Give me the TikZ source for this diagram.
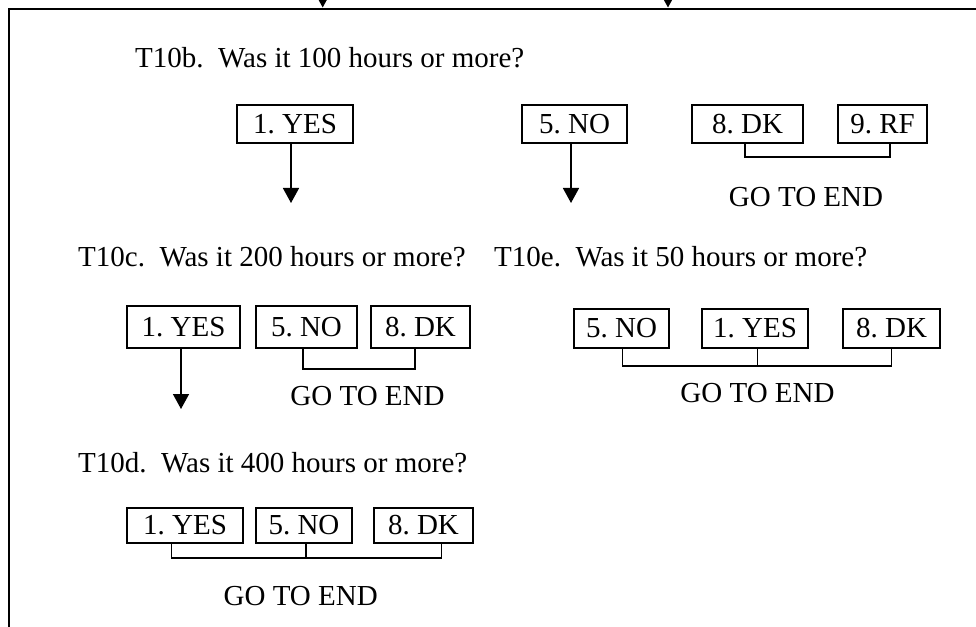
\documentclass[tikz,border=0pt]{standalone}
\usepackage{fontspec}
\setmainfont{Liberation Serif}
\usetikzlibrary{arrows.meta}
\frenchspacing
\begin{document}
\begin{tikzpicture}[x=1bp,y=-1bp,
  every node/.style={font=\fontsize{29bp}{34bp}\selectfont, inner sep=0pt},
  optbox/.style={draw, line width=1.5bp},
  conn/.style={line width=1.5bp},
  arr/.style={conn, -{Triangle[width=16bp,length=15bp]}},
  frameline/.style={line width=2.8bp}]
\useasboundingbox (0,0) rectangle (976,627);

% frame and incoming arrows
\coordinate (fbl) at (9,660);
\coordinate (fc) at (9,9);
\coordinate (ftr) at (1000,9);
\draw[frameline] (fbl) -- (fc) -- (ftr);
\coordinate (in1s) at (322.7,-40);
\coordinate (in1e) at (322.7,7.5);
\coordinate (in2s) at (668,-40);
\coordinate (in2e) at (668,7.5);
\draw[arr] (in1s) -- (in1e);
\draw[arr] (in2s) -- (in2e);

% questions
\node[anchor=base west] (q10b) at (135,68) {T10b.\ \ Was it 100 hours or more?};
\node[anchor=base west] (q10c) at (78,267) {T10c.\ \ Was it 200 hours or more?};
\node[anchor=base west] (q10e) at (494,267) {T10e.\ \ Was it 50 hours or more?};
\node[anchor=base west] (q10d) at (78,472) {T10d.\ \ Was it 400 hours or more?};

% row 1
\node[optbox, minimum width=116bp, minimum height=38bp] (yes1) at (295,124) {1. YES};
\node[optbox, minimum width=105bp, minimum height=38bp] (no1) at (574.5,124) {5. NO};
\node[optbox, minimum width=111bp, minimum height=38bp] (dk1) at (747.5,124) {8. DK};
\node[optbox, minimum width=89bp, minimum height=38bp] (rf1) at (882.5,124) {9. RF};
\coordinate (t1) at (291,203);
\coordinate (t2) at (571,203);
\draw[arr] (yes1.south -| t1) -- (t1);
\draw[arr] (no1.south -| t2) -- (t2);
\coordinate (b1l) at (745,157);
\coordinate (b1r) at (890,157);
\draw[conn] (dk1.south -| b1l) -- (b1l) -- (b1r) -- (rf1.south -| b1r);
\node[anchor=base] (g1) at (806,207) {GO TO END};

% row 2 left
\node[optbox, minimum width=113bp, minimum height=42bp] (yes2) at (183.5,327) {1. YES};
\node[optbox, minimum width=101bp, minimum height=42bp] (no2) at (306.5,327) {5. NO};
\node[optbox, minimum width=99bp, minimum height=42bp] (dk2) at (420.5,327) {8. DK};
\coordinate (t3) at (181,409);
\draw[arr] (yes2.south -| t3) -- (t3);
\coordinate (b2l) at (303,369);
\coordinate (b2r) at (415,369);
\draw[conn] (no2.south -| b2l) -- (b2l) -- (b2r) -- (dk2.south -| b2r);
\node[anchor=base] (g2) at (367.5,405) {GO TO END};

% row 2 right
\node[optbox, minimum width=95bp, minimum height=39bp] (no3) at (621.5,328.5) {5. NO};
\node[optbox, minimum width=106bp, minimum height=39bp] (yes3) at (755,328.5) {1. YES};
\node[optbox, minimum width=97bp, minimum height=39bp] (dk3) at (891.5,328.5) {8. DK};
\coordinate (b3l) at (622.7,366);
\coordinate (b3m) at (757.7,366);
\coordinate (b3r) at (891.7,366);
\draw[conn] (no3.south -| b3l) -- (b3l) -- (b3r) -- (dk3.south -| b3r);
\draw[conn] (yes3.south -| b3m) -- (b3m);
\node[anchor=base] (g3) at (757.5,402) {GO TO END};

% row 3
\node[optbox, minimum width=116bp, minimum height=35bp] (yes4) at (185,525.5) {1. YES};
\node[optbox, minimum width=96bp, minimum height=35bp] (no4) at (304,525.5) {5. NO};
\node[optbox, minimum width=99bp, minimum height=35bp] (dk4) at (423.5,525.5) {8. DK};
\coordinate (b4l) at (171.7,558);
\coordinate (b4m) at (306,558);
\coordinate (b4r) at (441.7,558);
\draw[conn] (yes4.south -| b4l) -- (b4l) -- (b4r) -- (dk4.south -| b4r);
\draw[conn] (no4.south -| b4m) -- (b4m);
\node[anchor=base] (g4) at (300.7,605) {GO TO END};
\end{tikzpicture}
\end{document}
